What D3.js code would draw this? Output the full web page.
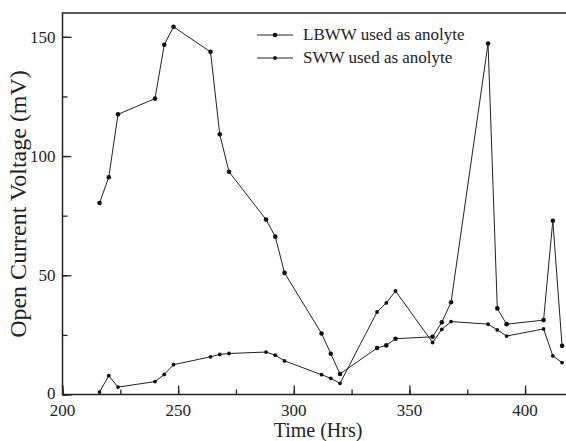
<!DOCTYPE html>
<html>
<head>
<meta charset="utf-8">
<script src="https://d3js.org/d3.v7.min.js"></script>
<style>
  body { margin: 0; background: #fff; }
</style>
</head>
<body>
<div class="chart"></div>
<script>
var width = 566, height = 441;
var padding = { top: 13, right: 0, bottom: 46.5, left: 62.5 };
var serif = "'Liberation Serif', 'Times New Roman', Times, serif";

// time in hours
var hours = [216, 220, 224, 240, 244, 248, 264, 268, 272, 288, 292, 296, 312, 316, 320,
             336, 340, 344, 360, 364, 368, 384, 388, 392, 408, 412, 416];
// open current voltage (mV)
var lbww = [80.3, 91.1, 117.5, 124.1, 146.7, 154.2, 143.7, 109.1, 93.4, 73.4, 66.2, 51.0, 25.6, 17.1, 8.6,
            19.5, 20.6, 23.4, 24.2, 30.3, 38.7, 147.2, 36.1, 29.5, 31.2, 72.9, 20.4];
var sww = [1.0, 7.9, 3.1, 5.4, 8.4, 12.5, 15.8, 16.8, 17.2, 17.8, 16.5, 14.1, 8.3, 6.8, 4.7,
           34.6, 38.4, 43.4, 21.8, 27.3, 30.6, 29.5, 27.1, 24.5, 27.5, 16.2, 13.4];
var seriesNames = ["LBWW used as anolyte", "SWW used as anolyte"];
var xTicks = [200, 250, 300, 350, 400];
var yTicks = [0, 50, 100, 150];

var svg = d3.select(".chart")
  .append("svg")
    .attr("width", width)
    .attr("height", height)
    .attr("font-family", serif);

var x_scale = d3.scaleLinear()
  .domain([200, 417.7])
  .range([padding.left, width - padding.right]);

var y_scale = d3.scaleLinear()
  .domain([0, 160])
  .range([height - padding.bottom, padding.top]);

// frame
svg.append("path")
  .attr("d", "M" + (width + 5) + "," + padding.top + "H" + padding.left +
             "V" + (height - padding.bottom) + "H" + (width + 5))
  .attr("fill", "none")
  .attr("stroke", "#222")
  .attr("stroke-width", 1.5);

// x axis, ticks pointing inward
svg.append("g")
  .attr("transform", "translate(0," + (height - padding.bottom) + ")")
  .call(d3.axisTop(x_scale).tickValues(d3.range(200, 417, 25)).tickSize(5).tickFormat(""));
svg.append("g")
  .attr("transform", "translate(0," + (height - padding.bottom) + ")")
  .call(d3.axisTop(x_scale).tickValues(xTicks).tickSize(9).tickFormat(""));

// y axis, ticks pointing inward
svg.append("g")
  .attr("transform", "translate(" + padding.left + ",0)")
  .call(d3.axisRight(y_scale).tickValues(d3.range(0, 160, 25)).tickSize(5).tickFormat(""));
svg.append("g")
  .attr("transform", "translate(" + padding.left + ",0)")
  .call(d3.axisRight(y_scale).tickValues(yTicks).tickSize(9).tickFormat(""));

svg.selectAll("g .domain").remove();
svg.selectAll("g .tick line").attr("stroke", "#222").attr("stroke-width", 1.3);

svg.append("g").selectAll("text")
  .data(xTicks)
  .enter()
  .append("text")
    .attr("x", function(d){ return x_scale(d); })
    .attr("y", height - padding.bottom + 21)
    .attr("text-anchor", "middle")
    .attr("font-family", serif)
    .attr("fill", "#222")
    .style("font-size", "17px")
    .text(function(d){ return d; });

svg.append("g").selectAll("text")
  .data(yTicks)
  .enter()
  .append("text")
    .attr("x", padding.left - 7)
    .attr("y", function(d){ return y_scale(d) + (d == 0 ? 4 : 6); })
    .attr("text-anchor", "end")
    .attr("font-family", serif)
    .attr("fill", "#222")
    .style("font-size", "17px")
    .text(function(d){ return d; });

// axis titles
svg.append("text")
  .attr("x", 318)
  .attr("y", 437)
  .attr("text-anchor", "middle")
  .attr("font-family", serif)
  .attr("fill", "#222")
  .style("font-size", "20px")
  .text("Time (Hrs)");

svg.append("text")
  .attr("transform", "translate(26," + 204 + ") rotate(-90)")
  .attr("text-anchor", "middle")
  .attr("font-family", serif)
  .attr("fill", "#222")
  .style("font-size", "24px")
  .text("Open Current Voltage (mV)");

// lines and dots
var linePath = d3.line()
  .x(function(d){ return x_scale(d[0]); })
  .y(function(d){ return y_scale(d[1]); });

var series = [lbww, sww];
var dotSize = [2.3, 1.9];

series.forEach(function(vals, i){
  var pts = hours.map(function(h, j){ return [h, vals[j]]; });
  svg.append("path")
    .attr("d", linePath(pts))
    .attr("fill", "none")
    .attr("stroke", "#222")
    .attr("stroke-width", 1);
  svg.append("g").selectAll("circle")
    .data(pts)
    .enter()
    .append("circle")
      .attr("cx", function(d){ return x_scale(d[0]); })
      .attr("cy", function(d){ return y_scale(d[1]); })
      .attr("r", dotSize[i])
      .attr("fill", "#111");
});

// legend
var legend = svg.append("g");
seriesNames.forEach(function(name, i){
  var ly = 35 + i * 23;
  legend.append("line")
    .attr("x1", 257).attr("x2", 293)
    .attr("y1", ly).attr("y2", ly)
    .attr("stroke", "#222")
    .attr("stroke-width", 1);
  legend.append("circle")
    .attr("cx", 275).attr("cy", ly)
    .attr("r", dotSize[i])
    .attr("fill", "#111");
  legend.append("text")
    .attr("x", 303)
    .attr("y", ly + 5)
    .attr("font-family", serif)
    .attr("fill", "#222")
    .style("font-size", "17px")
    .text(name);
});
</script>
</body>
</html>
